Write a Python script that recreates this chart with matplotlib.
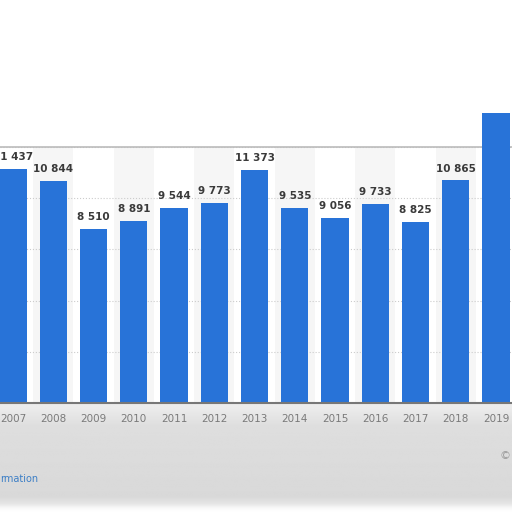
import matplotlib.pyplot as plt
import numpy as np

# Werte
anos = [2007, 2008, 2009, 2010, 2011, 2012, 2013, 2014, 2015, 2016, 2017, 2018, 2019]
valores = [11437, 10844, 8510, 8891, 9544, 9773, 11373, 9535, 9056, 9733, 8825, 10865, 14160]
rotulos = ['11 437', '10 844', '8 510', '8 891', '9 544', '9 773', '11 373',
           '9 535', '9 056', '9 733', '8 825', '10 865', '']

cor_barra = '#2873d8'

fig = plt.figure(figsize=(5.12, 5.12), dpi=100)
fig.patch.set_facecolor('white')

# faixa cinza borrada embaixo (gradiente vertical)
fundo = fig.add_axes([0, 0, 1, 0.215], zorder=-1)
perfil = np.interp(np.linspace(0, 110, 220),
                   [0, 8, 25, 60, 95, 102, 106, 110],
                   [0.93, 0.92, 0.87, 0.86, 0.85, 0.90, 0.97, 1.0])
fundo.imshow(perfil[:, None] * np.ones((1, 4)), cmap='gray', vmin=0, vmax=1,
             aspect='auto', extent=[0, 1, 0, 1], origin='upper')
fundo.axis('off')

ax = fig.add_axes([0, 0.2129, 1, 0.5])
ax.set_facecolor('white')

# colunas alternadas levemente cinzas
for i, a in enumerate(anos):
    if i % 2 == 1:
        ax.axvspan(a - 0.5, a + 0.5, color='#f6f6f6', zorder=0, lw=0)

ax.bar(anos, valores, width=0.68, color=cor_barra, zorder=3, clip_on=False)

for a, v, r in zip(anos, valores, rotulos):
    ax.annotate(r, (a, v), xytext=(0, 5), textcoords='offset points',
                ha='center', va='bottom', fontsize=7.5, fontweight='bold',
                color='#3a3a3a', zorder=4, annotation_clip=False)

ax.set_xlim(2006.677, 2019.397)
ax.set_ylim(0, 12500)
ax.set_yticks(np.arange(0, 12501, 2500))
ax.yaxis.grid(True, linestyle=':', color='#cccccc', linewidth=0.8, zorder=1)
ax.tick_params(axis='y', left=False, labelleft=False)
ax.set_xticks(anos)
ax.set_xticklabels([str(a) for a in anos])
ax.tick_params(axis='x', length=0, pad=8, labelsize=7.5, colors='#7a7a7a')

for s in ['left', 'right']:
    ax.spines[s].set_visible(False)
ax.spines['top'].set_color('#bbbbbb')
ax.spines['top'].set_linewidth(1.2)
ax.spines['bottom'].set_color('#777777')
ax.spines['bottom'].set_linewidth(1.5)
ax.spines['bottom'].set_zorder(5)

fig.text(0.0, 1 - 479 / 512, 'rmation', color='#3d7fc6', fontsize=7, va='center', ha='left')
fig.text(0.998, 1 - 456 / 512, '©', color='#999999', fontsize=8, va='center', ha='right')

plt.savefig('out.png', dpi=100)
